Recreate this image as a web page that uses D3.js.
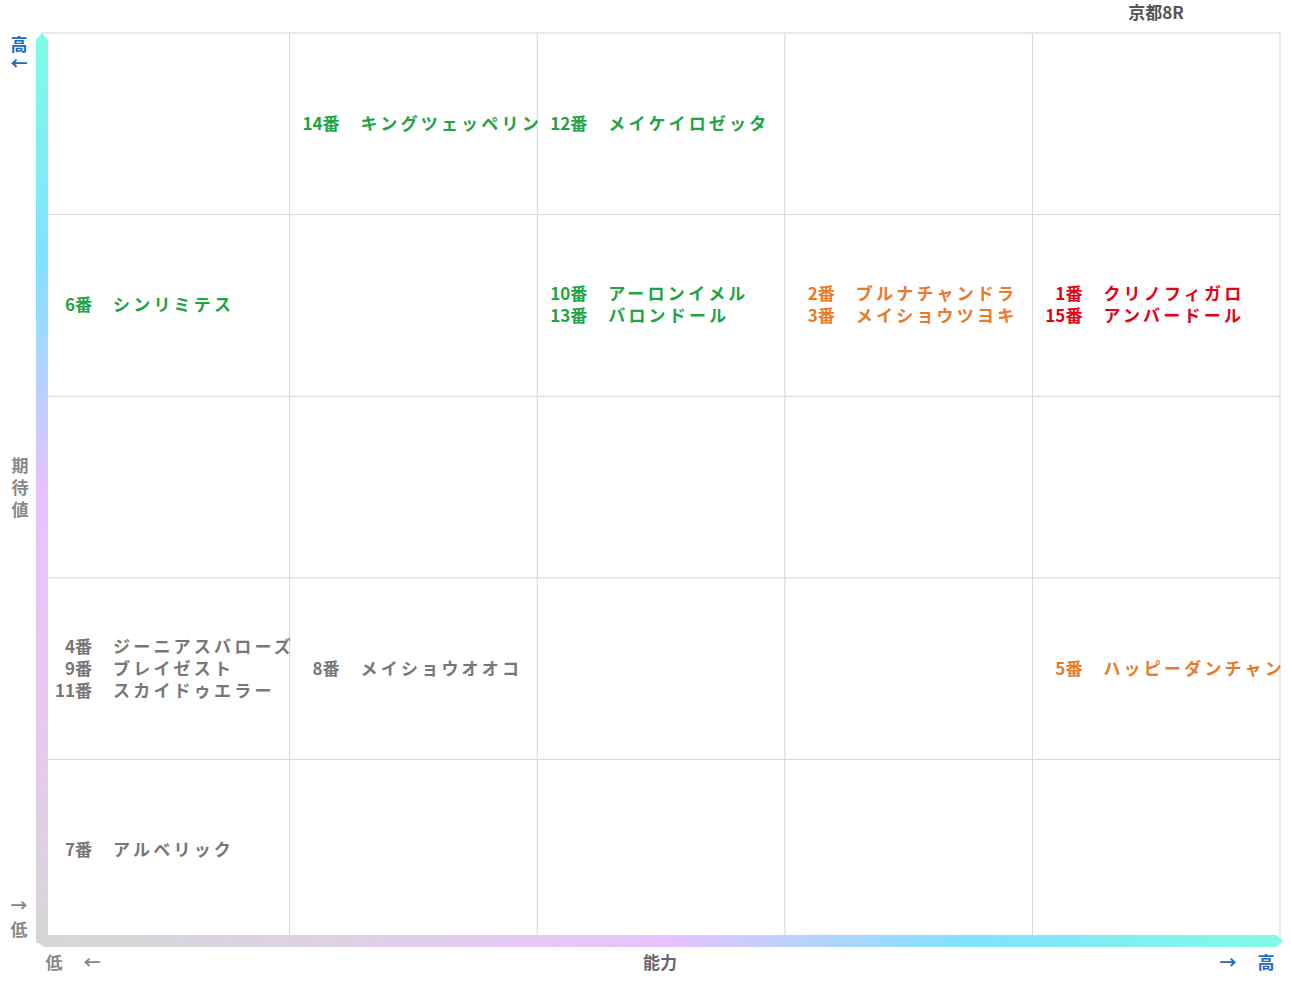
<!DOCTYPE html>
<html lang="ja">
<head>
<meta charset="UTF-8">
<script src="https://d3js.org/d3.v7.min.js"></script>
<style>
  body { margin: 0; background: #fff; }
  text { font-family: "Noto Sans CJK JP", sans-serif; font-weight: 700; }
</style>
</head>
<body>
<svg id="chart" width="1291" height="983"></svg>
<script>
// 能力 (column 0-4, left = low) / 期待値 (row 0-4, top = high)
const colLevels = [0, 1, 2, 3, 4];
const rowLevels = [4, 3, 2, 1, 0];
const horseNums = ["14", "12", "6", "10", "13", "2", "3", "1", "15", "4", "9", "11", "8", "5", "7"];
const horseNames = ["キングツェッペリン", "メイケイロゼッタ", "シンリミテス", "アーロンイメル", "バロンドール",
  "ブルナチャンドラ", "メイショウツヨキ", "クリノフィガロ", "アンバードール",
  "ジーニアスバローズ", "ブレイゼスト", "スカイドゥエラー", "メイショウオオコ", "ハッピーダンチャン", "アルベリック"];
const horseAbility = [1, 2, 0, 2, 2, 3, 3, 4, 4, 0, 0, 0, 1, 4, 0];
const horseExpect  = [4, 4, 3, 3, 3, 3, 3, 3, 3, 1, 1, 1, 1, 1, 0];
const horseMark    = ["g", "g", "g", "g", "g", "o", "o", "r", "r", "k", "k", "k", "k", "o", "k"];
const markColor = { g: "#1ea446", o: "#ea7a28", r: "#e60012", k: "#777777" };

const svg = d3.select("#chart");
const pLeft = 42, pRight = 1280, pTop = 33, pBottom = 941;
const x = d3.scaleBand().domain(colLevels).range([pLeft, pRight]);
const y = d3.scaleBand().domain(rowLevels).range([pTop, pBottom]);

// grid
const g = svg.append("g");
g.append("rect").attr("x", pLeft).attr("y", pTop).attr("width", pRight - pLeft).attr("height", pBottom - pTop)
  .attr("fill", "none").attr("stroke", "#d4d4d4");
colLevels.slice(1).forEach(c => g.append("line").attr("x1", x(c)).attr("x2", x(c)).attr("y1", pTop).attr("y2", pBottom).attr("stroke", "#d4d4d4"));
rowLevels.slice(1).forEach(r => g.append("line").attr("y1", y(r)).attr("y2", y(r)).attr("x1", pLeft).attr("x2", pRight).attr("stroke", "#d4d4d4"));

// axis bars with gradients
const defs = svg.append("defs");
const vg = defs.append("linearGradient").attr("id", "vg").attr("x1", 0).attr("y1", 0).attr("x2", 0).attr("y2", 1);
[[0, "#80fbe6"], [0.25, "#7fe3ff"], [0.5, "#e6c2ff"], [0.75, "#e8c8f0"], [1, "#d6d6d6"]]
  .forEach(s => vg.append("stop").attr("offset", s[0]).attr("stop-color", s[1]));
const hg = defs.append("linearGradient").attr("id", "hg").attr("x1", 0).attr("y1", 0).attr("x2", 1).attr("y2", 0);
[[0, "#d6d6d6"], [0.25, "#ddd0e4"], [0.5, "#e8c2ff"], [0.75, "#80e3ff"], [1, "#80fbe6"]]
  .forEach(s => hg.append("stop").attr("offset", s[0]).attr("stop-color", s[1]));
svg.append("path").attr("d", `M36,${pBottom + 2} L36,40 L42,33 L48,40 L48,${pBottom + 2} Z`).attr("fill", "url(#vg)");
svg.append("path").attr("d", `M36,935 L1276,935 L1283,941 L1276,947 L44,947 L36,941 Z`).attr("fill", "url(#hg)");

// horse labels
const cells = d3.groups(d3.range(horseNums.length), i => horseAbility[i] + "-" + horseExpect[i]);
cells.forEach(([key, idx]) => {
  const cx = x(horseAbility[idx[0]]), cy = y(horseExpect[idx[0]]) + y.bandwidth() / 2;
  const lh = 22, y0 = cy - (idx.length - 1) * lh / 2;
  idx.forEach((i, k) => {
    const t = svg.append("g").attr("fill", markColor[horseMark[i]]).attr("font-size", 17);
    t.append("text").attr("x", cx + 50).attr("y", y0 + k * lh).attr("dy", "0.35em")
      .attr("text-anchor", "end").text(horseNums[i] + "番");
    t.append("text").attr("x", cx + 71).attr("y", y0 + k * lh).attr("dy", "0.35em")
      .attr("letter-spacing", 3.2).text(horseNames[i]);
  });
});

// axis labels
const lab = (tx, ty, s, c, size) => svg.append("text").attr("x", tx).attr("y", ty).attr("dy", "0.35em")
  .attr("text-anchor", "middle").attr("fill", c).attr("font-size", size || 17).text(s);
const blue = "#1a6cc0", grey = "#888888";
lab(19, 45, "高", blue); lab(19, 64, "←", blue);
lab(19, 906, "→", grey); lab(19, 930, "低", grey);
lab(20, 466, "期", grey); lab(20, 488, "待", grey); lab(20, 510, "値", grey);
lab(54, 963, "低", grey); lab(92, 963, "←", grey);
lab(660, 963, "能力", "#666");
lab(1228, 963, "→", blue); lab(1266, 963, "高", blue);
lab(1156, 13, "京都8R", "#555");
</script>
</body>
</html>
